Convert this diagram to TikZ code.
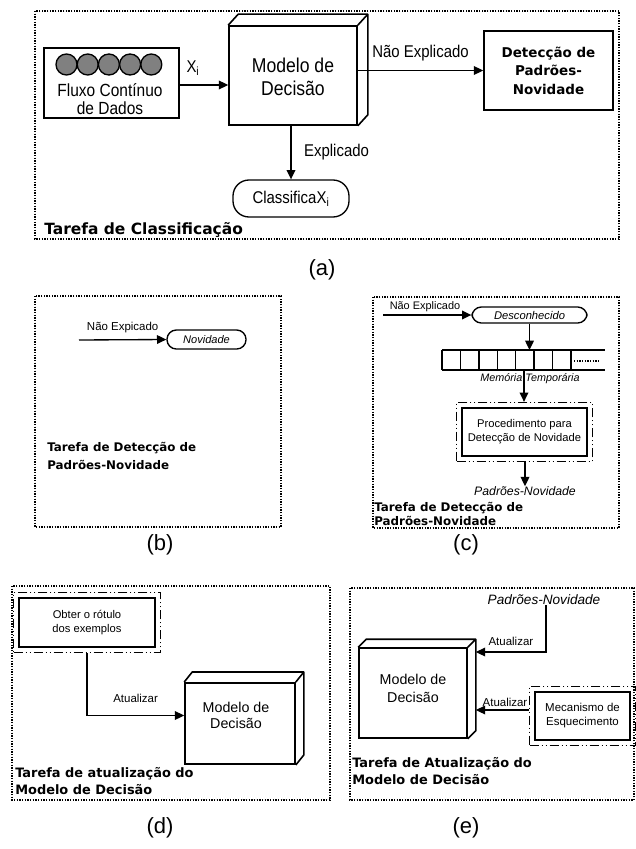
\documentclass[tikz,border=0pt]{standalone}
\usepackage{fontspec}
\setmainfont{Liberation Sans}
\newfontfamily\estreita[FakeStretch=0.88]{Liberation Sans}
\newfontfamily\negrito{DejaVu Sans}
\usetikzlibrary{arrows.meta,positioning,fit,calc}

% molduras e caixas
\tikzset{
  moldura/.style={draw, line width=1pt, dash pattern=on 1pt off 1pt},
  caixa/.style={draw, line width=1.2pt, align=center, fill=white, inner sep=0pt},
  arred/.style={draw, line width=1pt, rounded corners=7pt, align=center, inner sep=0pt},
  traco/.style={draw, line width=1pt, dash pattern=on 7pt off 2pt on 1pt off 2pt on 1pt off 2pt, inner sep=3.5pt},
  seta/.style={line width=1pt, -{Triangle[length=7pt,width=6.5pt]}},
  tarefa/.style={anchor=west, align=left, font=\negrito\bfseries\fontsize{8.9}{13.5}\selectfont, inner sep=0pt},
  rotulo/.style={font=\fontsize{16.5}{18}\selectfont, inner sep=0pt},
}
% profundidade da caixa 3D
\newcommand{\profund}[3]{%
  \draw[line width=1.2pt, line join=round] (#1.north west) -- ++(#2,-#3) -| ($(#1.south east)+(#2,-#3)$) -- (#1.south east)
    (#1.north east) -- ++(#2,-#3);}

\begin{document}
\begin{tikzpicture}[x=0.75pt,y=-0.75pt]
  \useasboundingbox (0,0) rectangle (635,849);

  % (a)
  \draw[moldura] (35,11) rectangle (619,239);
  \node[caixa, minimum width=101.25pt, minimum height=52.5pt] (fluxo) at (111.5,83) {};
  \foreach \k in {0,...,4}
    \draw[line width=1pt, fill=gray] (66.5+21.2*\k,64.5) circle[radius=10.5];
  \node[align=center, font=\estreita\fontsize{13.2}{13}\selectfont] (fluxotxt) at (110,99) {Fluxo Contínuo\\de Dados};
  \node[caixa, minimum width=96pt, minimum height=74.25pt] (modelo) at (293,75.5) {};
  \profund{modelo}{10}{11}
  \node[align=center, font=\estreita\fontsize{15}{17.3}\selectfont] (modelotxt) at (293,77) {Modelo de\\Decisão};
  \node[caixa, minimum width=96.75pt, minimum height=59.25pt, font=\negrito\bfseries\fontsize{10.1}{13.9}\selectfont] (deteccao) at (548.5,70.5) {Detecção de\\Padrões-\\Novidade};
  \node[arred, rounded corners=12pt, minimum width=87pt, minimum height=27.75pt, font=\estreita\fontsize{12.75}{14}\selectfont] (classifica) at (291,198.5) {ClassificaX\textsubscript{i}};
  \draw[seta] (fluxo.east |- 0,85) -- (modelo.west |- 0,85);
  \node[font=\estreita\fontsize{12.75}{14}\selectfont] (xi) at (193,68) {X\textsubscript{i}};
  \draw[seta] (modelo.east |- deteccao.west) -- (deteccao.west) node[midway, above=3pt, font=\estreita\fontsize{12.75}{14}\selectfont] {Não Explicado};
  \draw[seta] (modelo.south -| classifica.north) -- (classifica.north) node[midway, right=6pt, font=\estreita\fontsize{12.75}{14}\selectfont] {Explicado};
  \node[tarefa, font=\negrito\bfseries\fontsize{11.6}{13}\selectfont] (tarefaA) at (44,230) {Tarefa de Classificação};
  \node[rotulo] (rotA) at (322,270) {(a)};

  % (b)
  \draw[moldura] (35,296) rectangle (281,527);
  \coordinate (entradaB) at (79,340);
  \node[arred, minimum width=59.25pt, minimum height=14.25pt, font=\itshape\fontsize{8.3}{10}\selectfont] (novidade) at (206.5,339.5) {Novidade};
  \draw[seta] (entradaB) -- (novidade.west) node[midway, above=1pt, font=\fontsize{8.6}{10}\selectfont] {Não Expicado};
  \node[tarefa] (tarefaB) at (47,456) {Tarefa de Detecção de\\Padrões-Novidade};
  \node[rotulo] (rotB) at (160,545) {(b)};

  % (c)
  \draw[moldura] (373,297) rectangle (619,528);
  \coordinate (entradaC) at (383,315);
  \node[arred, minimum width=86.25pt, minimum height=12pt, font=\itshape\fontsize{8.4}{10}\selectfont] (desconhecido) at (529.5,315) {Desconhecido};
  \draw[seta] (entradaC) -- (desconhecido.west);
  \node[font=\fontsize{8.2}{10}\selectfont, inner sep=0pt] (naoexpC) at (425,306.5) {Não Explicado};
  % memoria temporaria
  \foreach \k in {0,...,7}
    \draw[line width=1pt] (442+18.43*\k,350) -- (442+18.43*\k,370);
  \draw[line width=1pt] (442,350) -- (605,350) (442,370) -- (605,370);
  \draw[line width=0.8pt, dash pattern=on 1pt off 1pt] (574,361) -- (600,361);
  \coordinate (memtopo) at (529.5,350);
  \coordinate (membase) at (524,370);
  \draw[seta] (desconhecido.south) -- (memtopo);
  \node[caixa, minimum width=93.75pt, minimum height=36pt, font=\fontsize{8.4}{10.5}\selectfont] (procedimento) at (524.5,432) {Procedimento para\\Detecção de Novidade};
  \node[traco, fit=(procedimento)] (procfora) {};
  \node[font=\itshape\fontsize{8.1}{10}\selectfont, inner sep=0.5pt] (memoria) at (530,379) {Memória Temporária};
  \draw[seta] (membase) -- (membase |- procfora.north);
  \node[font=\itshape\fontsize{9.2}{11}\selectfont, inner sep=0pt] (padroesC) at (525,491) {Padrões-Novidade};
  \draw[seta] (procfora.south -| padroesC.north) -- (padroesC.north);
  \node[tarefa, font=\negrito\bfseries\fontsize{8.9}{10.5}\selectfont] (tarefaC) at (374,514) {Tarefa de Detecção de\\Padrões-Novidade};
  \node[rotulo] (rotC) at (466,545) {(c)};

  % (d)
  \draw[moldura] (12,586) rectangle (330,800);
  \node[caixa, minimum width=102pt, minimum height=36.75pt, font=\fontsize{8.4}{10.5}\selectfont] (obter) at (87,622.5) {Obter o rótulo\\dos exemplos};
  \node[traco, fit=(obter)] (obterfora) {};
  \node[caixa, minimum width=82.5pt, minimum height=61pt] (modeloD) at (240,723.5) {};
  \profund{modeloD}{8}{10}
  \node[align=center, font=\fontsize{10.7}{12}\selectfont] (modeloDtxt) at (236,715) {Modelo de\\Decisão};
  \draw[seta] (obterfora.south) |- ([yshift=6pt]modeloD.west) node[pos=0.75, above=6pt, font=\fontsize{8.6}{10}\selectfont] {Atualizar};
  \node[tarefa, font=\negrito\bfseries\fontsize{9.7}{12.5}\selectfont] (tarefaD) at (15,781) {Tarefa de atualização do\\Modelo de Decisão};
  \node[rotulo] (rotD) at (160,828) {(d)};

  % (e)
  \draw[moldura] (350,588) rectangle (634,800);
  \node[font=\itshape\fontsize{10.2}{12}\selectfont, inner sep=0pt] (padroesE) at (544,600) {Padrões-Novidade};
  \node[caixa, minimum width=81pt, minimum height=67.5pt] (modeloE) at (413,693) {};
  \profund{modeloE}{8}{8}
  \node[align=center, font=\fontsize{10.7}{13.5}\selectfont] (modeloEtxt) at (413,688) {Modelo de\\Decisão};
  \node[caixa, minimum width=71.25pt, minimum height=36pt, font=\fontsize{8.6}{10.5}\selectfont] (mecanismo) at (582.5,716) {Mecanismo de\\Esquecimento};
  \node[traco, fit=(mecanismo)] (mecfora) {};
  \draw[seta] (padroesE.south -| 546,0) |- ([xshift=6pt,yshift=30.75pt]modeloE.east) node[pos=0.75, above=1pt, font=\fontsize{8.6}{10}\selectfont] {Atualizar};
  \draw[seta] (mecfora.west |- 0,710) -- ([xshift=6pt]modeloE.east |- 0,710);
  \node[font=\fontsize{8.6}{10}\selectfont, inner sep=1pt] (atuE) at (505,702) {Atualizar};
  \node[tarefa, font=\negrito\bfseries\fontsize{9.7}{12.5}\selectfont] (tarefaE) at (352,771) {Tarefa de Atualização do\\Modelo de Decisão};
  \node[rotulo] (rotE) at (466,828) {(e)};
\end{tikzpicture}
\end{document}
